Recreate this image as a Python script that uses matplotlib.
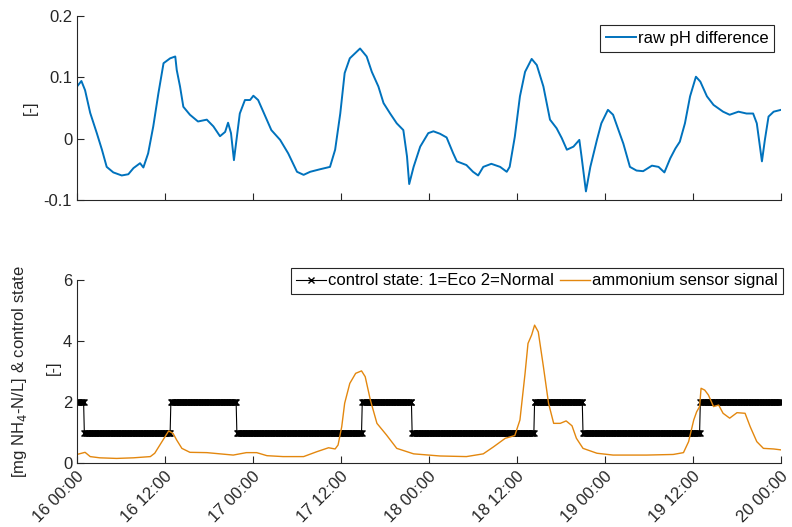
import numpy as np
import matplotlib
matplotlib.use("Agg")
import matplotlib.pyplot as plt
import matplotlib.transforms as mtransforms

plt.rcParams['font.family'] = ['Liberation Sans', 'DejaVu Sans']

# ---------------- data ----------------
# time in hours since "16 00:00"
ph_time = [0.0, 0.6, 1.1, 1.8, 2.7, 3.4, 4.05, 4.95, 6.1, 7.0, 7.7, 8.6, 9.05, 9.7, 10.4,
           11.1, 11.8, 12.7, 13.4, 13.6, 14.05, 14.5, 15.4, 16.5, 17.7, 18.6, 19.5, 20.2,
           20.6, 21.0, 21.4, 21.8, 22.2, 22.9, 23.6, 24.05, 24.7, 25.4, 26.5, 27.7, 28.8,
           30.0, 30.9, 31.8, 33.1, 34.5, 35.2, 35.9, 36.5, 37.2, 38.6, 39.5, 40.2, 41.1,
           41.8, 42.7, 43.6, 44.5, 45.0, 45.3, 45.9, 46.8, 47.9, 48.6, 49.5, 50.4, 51.3,
           51.8, 53.1, 54.0, 54.7, 55.4, 56.5, 57.7, 58.6, 59.0, 59.7, 60.4, 61.1, 62.0,
           62.7, 63.6, 64.5, 65.4, 66.1, 66.8, 67.7, 68.5, 68.8, 69.4, 70.0, 70.9, 71.5,
           72.4, 73.1, 73.9, 74.5, 75.4, 76.3, 77.2, 78.4, 79.3, 80.1, 80.9, 81.6, 82.2,
           82.9, 83.6, 84.4, 85.0, 85.9, 86.8, 88.1, 89.0, 90.2, 91.3, 92.2, 92.7, 93.4,
           93.8, 94.3, 95.0, 96.0]
ph_diff = [0.085, 0.094, 0.079, 0.042, 0.009, -0.018, -0.046, -0.055, -0.060, -0.058,
           -0.048, -0.040, -0.047, -0.024, 0.020, 0.074, 0.123, 0.131, 0.134, 0.112, 0.085,
           0.052, 0.039, 0.028, 0.031, 0.020, 0.004, 0.011, 0.026, 0.009, -0.035, 0.003,
           0.041, 0.063, 0.063, 0.070, 0.063, 0.044, 0.014, -0.002, -0.024, -0.054, -0.059,
           -0.054, -0.050, -0.046, -0.018, 0.041, 0.107, 0.131, 0.147, 0.134, 0.109, 0.085,
           0.058, 0.041, 0.025, 0.014, -0.029, -0.074, -0.046, -0.013, 0.009, 0.012, 0.008,
           0.002, -0.024, -0.037, -0.043, -0.054, -0.060, -0.046, -0.041, -0.046, -0.054,
           -0.046, 0.003, 0.069, 0.109, 0.130, 0.120, 0.085, 0.031, 0.017, 0.001, -0.018,
           -0.013, -0.002, -0.029, -0.086, -0.046, -0.002, 0.025, 0.047, 0.039, 0.012,
           -0.008, -0.046, -0.052, -0.053, -0.044, -0.046, -0.055, -0.032, -0.016, -0.005,
           0.025, 0.069, 0.101, 0.093, 0.069, 0.055, 0.044, 0.039, 0.044, 0.041, 0.041,
           0.025, -0.037, -0.002, 0.036, 0.044, 0.047]

nh4_time = [0.0, 1.1, 1.8, 3.1, 5.4, 7.7, 10.0, 10.6, 11.3, 12.0, 12.5, 13.1, 13.6, 14.3,
            15.4, 17.7, 19.5, 21.3, 23.1, 24.5, 25.9, 28.1, 30.9, 32.7, 34.3, 35.2, 35.6,
            36.1, 36.5, 37.2, 38.0, 38.8, 39.3, 40.0, 40.9, 42.2, 43.6, 45.9, 49.5, 53.1,
            55.4, 56.8, 58.4, 59.7, 60.4, 61.1, 61.5, 62.0, 62.4, 62.9, 63.6, 64.3, 65.0,
            65.9, 66.7, 67.5, 68.1, 69.0, 70.9, 73.1, 77.7, 81.3, 82.7, 83.4, 84.1, 84.5,
            84.9, 85.1, 85.6, 86.1, 86.8, 87.5, 88.1, 89.0, 90.0, 91.1, 91.8, 92.7, 93.6,
            95.0, 96.0]
nh4_conc = [0.28, 0.35, 0.21, 0.17, 0.15, 0.17, 0.21, 0.32, 0.59, 0.86, 1.05, 0.97, 0.75,
            0.48, 0.35, 0.34, 0.30, 0.26, 0.34, 0.34, 0.24, 0.21, 0.21, 0.37, 0.50, 0.46,
            0.59, 1.19, 1.96, 2.61, 2.94, 3.02, 2.83, 2.07, 1.30, 0.92, 0.48, 0.30, 0.23,
            0.21, 0.30, 0.53, 0.81, 0.90, 1.41, 2.94, 3.92, 4.20, 4.52, 4.30, 3.16, 1.96,
            1.30, 1.30, 1.38, 1.22, 0.81, 0.48, 0.32, 0.26, 0.26, 0.28, 0.34, 0.70, 1.41,
            1.68, 1.85, 2.45, 2.39, 2.23, 1.85, 1.90, 1.63, 1.47, 1.65, 1.63, 1.19, 0.70,
            0.48, 0.46, 0.43]

# control state switching times (h) and state from that time on
ctrl_switch = [0.0, 1.0, 12.8, 21.8, 38.9, 45.7, 62.4, 69.0, 85.0]
ctrl_state = [2, 1, 2, 1, 2, 1, 2, 1, 2]

xtick_pos = [0, 12, 24, 36, 48, 60, 72, 84, 96]
xtick_labels = ["16 00:00", "16 12:00", "17 00:00", "17 12:00", "18 00:00",
                "18 12:00", "19 00:00", "19 12:00", "20 00:00"]

# sampled control-state series (logged every 6 min)
ctrl_t = np.arange(0, 96.0001, 0.1)
ctrl_v = np.array(ctrl_state)[np.searchsorted(ctrl_switch, ctrl_t, side='right') - 1]

# ---------------- figure ----------------
W, H = 792, 527
FS = 12
fig = plt.figure(figsize=(W / 100, H / 100), dpi=100)

def axrect(l, t, r, b):
    return [l / W, 1 - b / H, (r - l) / W, (b - t) / H]

ax1 = fig.add_axes(axrect(77, 16, 781, 200))
ax2 = fig.add_axes(axrect(77, 280, 781, 463))

axcol = '#262626'
for ax in (ax1, ax2):
    for s in ('top', 'right'):
        ax.spines[s].set_visible(False)
    for s in ('left', 'bottom'):
        ax.spines[s].set_color(axcol)
        ax.spines[s].set_linewidth(0.8)
    ax.tick_params(direction='in', length=5, width=0.8, color=axcol,
                   labelcolor=axcol, labelsize=FS)
    ax.set_xlim(0, 96)
    ax.set_xticks(xtick_pos)

# top
ax1.plot(ph_time, ph_diff, color='#0072BD', lw=1.4, label='raw pH difference')
ax1.set_ylim(-0.1, 0.2)
ax1.set_yticks([-0.1, 0, 0.1, 0.2])
ax1.set_yticklabels(['-0.1', '0', '0.1', '0.2'])
ax1.set_xticklabels([])
leg1 = ax1.legend(loc='upper right', bbox_to_anchor=(774 / W, 1 - 25 / H),
                  bbox_transform=fig.transFigure, borderaxespad=0, fancybox=False,
                  framealpha=1, edgecolor=axcol, fontsize=FS, handlelength=1.8,
                  handletextpad=0.1, borderpad=0.35)
leg1.get_frame().set_linewidth(0.8)
fig.text(30 / W, 1 - 108 / H, '[-]', rotation=90, ha='center', va='center',
         fontsize=FS, color=axcol)

# bottom
ax2.plot(ctrl_t, ctrl_v, color='black', lw=0.8, marker='x', markersize=5,
         markeredgewidth=1.0, label='control state: 1=Eco 2=Normal')
ax2.plot(nh4_time, nh4_conc, color='#E3870E', lw=1.0, label='ammonium sensor signal')
ax2.set_ylim(0, 6)
ax2.set_yticks([0, 2, 4, 6])
ax2.set_xticklabels(xtick_labels, rotation=45, ha='right', va='center',
                    rotation_mode='anchor')
offset = mtransforms.ScaledTranslation(5 / 100, -6 / 100, fig.dpi_scale_trans)
for lab in ax2.get_xticklabels():
    lab.set_color(axcol)
    lab.set_transform(lab.get_transform() + offset)
leg2 = ax2.legend(loc='upper right', bbox_to_anchor=(783 / W, 1 - 268 / H),
                  bbox_transform=fig.transFigure, borderaxespad=0, fancybox=False,
                  framealpha=1, edgecolor=axcol, fontsize=FS, ncol=2,
                  handlelength=1.8, handletextpad=0.1, columnspacing=0.4,
                  borderpad=0.32)
leg2.get_frame().set_linewidth(0.8)
fig.text(20 / W, 1 - 372 / H, '[mg NH$_4$-N/L] & control state', rotation=90,
         ha='center', va='center', fontsize=FS, color=axcol)
fig.text(53 / W, 1 - 368 / H, '[-]', rotation=90, ha='center', va='center',
         fontsize=FS, color=axcol)

fig.savefig('out.png', dpi=100)
